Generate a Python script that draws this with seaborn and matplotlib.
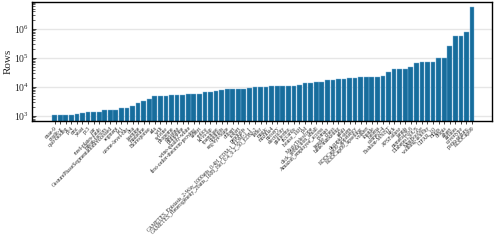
import matplotlib
matplotlib.use("Agg")
import matplotlib.pyplot as plt
import seaborn as sns
import pandas as pd

# dataset names (sorted by number of rows)
names = [
    "cnae-9", "credit-g", "qsar-biodeg", "pc4", "cmc", "yeast", "pc3", "car",
    "steel-plates-fault", "mfeat-factors", "GesturePhaseSegmentationProcessed",
    "segment", "kc1", "ozone-level-8hr", "dna", "jasmine", "madeline",
    "Bioresponse", "ada", "wilt", "sylvine", "phoneme", "christine",
    "philippine", "wine-quality-white", "first-order-theorem-proving",
    "fabert", "splice", "kr-vs-kp", "spambase", "optdigits", "eeg-eye-state",
    "dilbert", "robert", "pendigits",
    "GAMETES_Epistasis_2-Way_1000atts_0.4H_EDM-1_EDM-1_1",
    "GAMETES_Heterogeneity_20atts_1600_Het_0.4_0.2_50_EDM-2",
    "letter", "magic", "mozilla4", "nursery", "electricity", "guillermo",
    "riccardo", "house_16H", "pol", "MagicTelescope", "click_prediction_small",
    "Amazon_employee_access", "nomao", "jungle_chess", "bank-marketing",
    "adult", "okcupid-stem", "KDDCup09_appetency", "KDDCup09_upselling",
    "volkert", "shuttle", "helena", "connect-4", "Fashion-MNIST", "kick",
    "APSFailure", "jannis", "numerai28.6", "Diabetes130US", "MiniBooNE",
    "walking-activity", "CIFAR_10", "Higgs", "dionis", "albert", "airlines",
    "covertype", "porto-seguro", "KDDCup99",
]

rows = [
    1080, 1080, 1100, 1120, 1150, 1240, 1350, 1350, 1350, 1600, 1600, 1600,
    1930, 1930, 2150, 2800, 3200, 3800, 5000, 5000, 5000, 5400, 5400, 5400,
    5600, 5700, 5700, 6500, 6500, 7200, 7600, 8200, 8200, 8200, 8200, 9500,
    10000, 10000, 10000, 10800, 11000, 11000, 11000, 11000, 12000, 13700,
    13700, 15200, 15200, 17000, 17000, 19400, 19400, 19600, 19600, 21600,
    21600, 22000, 22300, 24600, 32000, 40700, 40700, 40700, 48000, 69000,
    71000, 71000, 71000, 100000, 100000, 260000, 590000, 590000, 810000,
    5600000,
]

df = pd.DataFrame({"dataset": names, "rows": rows})

sns.set_style("ticks")
plt.rcParams["font.family"] = ["Liberation Serif", "DejaVu Serif"]
plt.rcParams["mathtext.fontset"] = "stix"

fig = plt.figure(figsize=(4.97, 2.47), dpi=100)
ax = fig.add_axes([0.064, 0.51, 0.926, 0.482])

sns.barplot(data=df, x="dataset", y="rows", color="#0173b2", width=0.85,
            edgecolor="#7fb5dc", linewidth=0.3, ax=ax)
ax.set_yscale("log")
ax.set_ylim(670, 8.5e6)
ax.set_xlim(-4.1, 78.6)

ax.yaxis.grid(True, which="major", color="#e6e6e6", linewidth=1)
ax.set_axisbelow(True)

ax.set_xlabel("")
ax.set_ylabel("Rows", fontsize=8, labelpad=1)
ax.tick_params(axis="y", which="both", direction="in", labelsize=7, pad=2)
ax.tick_params(axis="y", which="major", length=3, width=0.6)
ax.tick_params(axis="y", which="minor", length=1.8, width=0.5)
ax.tick_params(axis="x", direction="out", length=2.5, width=0.6, pad=1)
ax.set_xticks(range(len(names)))
ax.set_xticklabels(names, rotation=45, ha="right", rotation_mode="anchor",
                   fontsize=4.0)
for s in ax.spines.values():
    s.set_visible(True)
    s.set_linewidth(1)
    s.set_color("black")

fig.savefig("out.png", dpi=100)
